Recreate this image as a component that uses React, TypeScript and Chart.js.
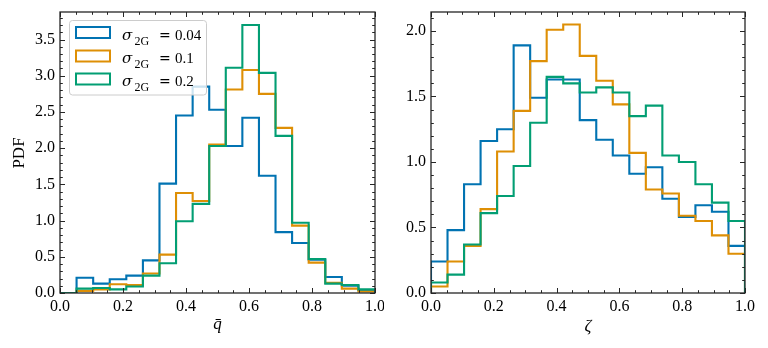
import React, { useEffect, useRef } from "react";
import { Chart, registerables } from "chart.js";

Chart.register(...registerables);

// ---- data ----
const binEdges = [
  0, 0.0526, 0.1053, 0.1579, 0.2105, 0.2632, 0.3158, 0.3684, 0.4211, 0.4737,
  0.5263, 0.5789, 0.6316, 0.6842, 0.7368, 0.7895, 0.8421, 0.8947, 0.9474, 1.0,
];

const seriesLabels = ["0.04", "0.1", "0.2"];
const seriesColors = ["#0173B2", "#DE8F05", "#029E73"];

// left panel: q-bar
const qBlue = [0, 0.21, 0.13, 0.19, 0.24, 0.45, 1.51, 2.45, 2.85, 2.53, 2.03, 2.42, 1.62, 0.84, 0.69, 0.46, 0.22, 0.1, 0.04];
const qOrange = [0, 0.03, 0.05, 0.12, 0.11, 0.27, 0.53, 1.38, 1.27, 2.05, 2.81, 3.08, 2.75, 2.28, 0.93, 0.42, 0.14, 0.06, 0.02];
const qGreen = [0, 0.06, 0.07, 0.05, 0.09, 0.24, 0.41, 0.99, 1.23, 2.03, 3.11, 3.7, 3.04, 2.17, 0.97, 0.47, 0.13, 0.11, 0.05];

// right panel: zeta
const zBlue = [0.24, 0.48, 0.83, 1.16, 1.25, 1.89, 1.49, 1.63, 1.63, 1.32, 1.17, 1.05, 0.91, 0.96, 0.72, 0.58, 0.67, 0.62, 0.36];
const zOrange = [0.05, 0.24, 0.36, 0.64, 1.08, 1.39, 1.77, 2.01, 2.05, 1.81, 1.62, 1.44, 1.07, 0.79, 0.76, 0.59, 0.55, 0.44, 0.3];
const zGreen = [0.08, 0.14, 0.37, 0.61, 0.74, 0.97, 1.3, 1.65, 1.6, 1.53, 1.57, 1.53, 1.35, 1.43, 1.05, 1.0, 0.83, 0.69, 0.55];

const xTickValues = [0, 0.2, 0.4, 0.6, 0.8, 1.0];
const yTickValuesLeft = [0, 0.5, 1.0, 1.5, 2.0, 2.5, 3.0, 3.5];
const yTickValuesRight = [0, 0.5, 1.0, 1.5, 2.0];

const SERIF = "'Liberation Serif', 'DejaVu Serif', serif";
const DEJAVU = "'DejaVu Serif', serif";
const INK = "#262626";

function stepPoints(values: number[]) {
  const pts: { x: number; y: number }[] = [{ x: binEdges[0], y: 0 }];
  values.forEach((v, i) => pts.push({ x: binEdges[i], y: v }));
  pts.push({ x: binEdges[binEdges.length - 1], y: 0 });
  return pts;
}

function minorList(max: number, step: number) {
  const out: number[] = [];
  for (let i = 0; i * step <= max + 1e-9; i++) out.push(+(i * step).toFixed(4));
  return out;
}

type PanelCfg = {
  series: number[][];
  yMax: number;
  yTicks: number[];
  yMinorStep: number;
  padLeftWidth: number;
  padRight: number;
  xTitle: string;
  yTitle?: string;
  legend: boolean;
};

function axesPlugin(cfg: PanelCfg) {
  return {
    id: "axesFrame",
    afterDraw(chart: any) {
      const { ctx, chartArea: a, scales } = chart;
      const xs = scales.x;
      const ys = scales.y;
      ctx.save();
      ctx.strokeStyle = INK;
      ctx.lineWidth = 1;
      ctx.beginPath();
      const xMinor = minorList(1, 0.05);
      const drawX = (vals: number[], len: number) => {
        vals.forEach((v) => {
          const px = Math.round(xs.getPixelForValue(v)) + 0.5;
          ctx.moveTo(px, a.bottom);
          ctx.lineTo(px, a.bottom - len);
          ctx.moveTo(px, a.top);
          ctx.lineTo(px, a.top + len);
        });
      };
      const drawY = (vals: number[], len: number) => {
        vals.forEach((v) => {
          const py = Math.round(ys.getPixelForValue(v)) + 0.5;
          ctx.moveTo(a.left, py);
          ctx.lineTo(a.left + len, py);
          ctx.moveTo(a.right, py);
          ctx.lineTo(a.right - len, py);
        });
      };
      drawX(xMinor, 2.8);
      drawX(xTickValues, 5);
      drawY(minorList(cfg.yMax, cfg.yMinorStep), 2.8);
      drawY(cfg.yTicks, 5);
      ctx.stroke();

      ctx.lineWidth = 1.3;
      ctx.strokeRect(a.left, a.top, a.right - a.left, a.bottom - a.top);

      // axis titles
      ctx.fillStyle = "#000";
      ctx.textAlign = "center";
      ctx.textBaseline = "alphabetic";
      const cx = (a.left + a.right) / 2;
      ctx.font = `italic 17px ${SERIF}`;
      if (cfg.xTitle === "q") {
        ctx.fillText("q\u0304", cx, 329);
      } else {
        ctx.fillText(cfg.xTitle, cx, 331);
      }
      if (cfg.yTitle) {
        ctx.save();
        ctx.translate(24, (a.top + a.bottom) / 2 + 0.5);
        ctx.rotate(-Math.PI / 2);
        ctx.font = `17px ${SERIF}`;
        ctx.fillText(cfg.yTitle, 0, 0);
        ctx.restore();
      }

      if (cfg.legend) {
        // legend frame
        const lx = 69.5, ly = 20.5, lw = 137, lh = 74.5, r = 3;
        ctx.beginPath();
        ctx.moveTo(lx + r, ly);
        ctx.lineTo(lx + lw - r, ly);
        ctx.arcTo(lx + lw, ly, lx + lw, ly + r, r);
        ctx.lineTo(lx + lw, ly + lh - r);
        ctx.arcTo(lx + lw, ly + lh, lx + lw - r, ly + lh, r);
        ctx.lineTo(lx + r, ly + lh);
        ctx.arcTo(lx, ly + lh, lx, ly + lh - r, r);
        ctx.lineTo(lx, ly + r);
        ctx.arcTo(lx, ly, lx + r, ly, r);
        ctx.closePath();
        ctx.fillStyle = "rgba(255,255,255,0.8)";
        ctx.fill();
        ctx.strokeStyle = "#cccccc";
        ctx.lineWidth = 1;
        ctx.stroke();

        const boxTops = [27, 50.5, 73.5];
        const baselines = [40, 63, 86];
        seriesLabels.forEach((lab, i) => {
          ctx.fillStyle = "#fff";
          ctx.fillRect(76, boxTops[i], 34, 11);
          ctx.strokeStyle = seriesColors[i];
          ctx.lineWidth = 2;
          ctx.strokeRect(76, boxTops[i], 34, 11);
          ctx.fillStyle = "#000";
          ctx.textAlign = "left";
          const by = baselines[i];
          ctx.font = `italic 15px ${DEJAVU}`;
          ctx.fillText("σ", 122, by);
          ctx.font = `12px ${SERIF}`;
          ctx.fillText("2G", 134.5, by + 4.5);
          ctx.font = `14px ${DEJAVU}`;
          ctx.fillText("=", 159, by);
          ctx.font = `15px ${SERIF}`;
          ctx.fillText(lab, 175, by);
        });
      }
      ctx.restore();
    },
  };
}

function Panel({ cfg }: { cfg: PanelCfg }) {
  const ref = useRef<HTMLCanvasElement | null>(null);
  useEffect(() => {
    if (!ref.current) return;
    const order = [3, 2, 1];
    const chart = new Chart(ref.current, {
      type: "line",
      data: {
        datasets: cfg.series.map((s, i) => ({
          label: "σ2G = " + seriesLabels[i],
          data: stepPoints(s),
          borderColor: seriesColors[i],
          backgroundColor: seriesColors[i],
          borderWidth: 2.1,
          pointRadius: 0,
          stepped: true,
          fill: false,
          order: order[i],
        })),
      },
      options: {
        animation: false,
        responsive: false,
        devicePixelRatio: 1,
        parsing: false as any,
        layout: { padding: { top: 12, right: cfg.padRight, left: 0, bottom: 0 } },
        plugins: { legend: { display: false }, tooltip: { enabled: false } },
        events: [],
        scales: {
          x: {
            type: "linear",
            min: 0,
            max: 1,
            grid: { display: false, drawTicks: false },
            border: { display: false },
            afterBuildTicks: (s: any) => {
              s.ticks = xTickValues.map((v) => ({ value: v }));
            },
            afterFit: (s: any) => {
              s.height = 55;
              s.paddingLeft = 0;
              s.paddingRight = 0;
            },
            ticks: {
              padding: 4,
              autoSkip: false,
              maxRotation: 0,
              color: "#000",
              font: { family: SERIF, size: 16 },
              callback: (v: any) => Number(v).toFixed(1),
            },
          },
          y: {
            type: "linear",
            min: 0,
            max: cfg.yMax,
            grid: { display: false, drawTicks: false },
            border: { display: false },
            afterBuildTicks: (s: any) => {
              s.ticks = cfg.yTicks.map((v) => ({ value: v }));
            },
            afterFit: (s: any) => {
              s.width = cfg.padLeftWidth;
              s.paddingTop = 0;
              s.paddingBottom = 0;
            },
            ticks: {
              padding: 5,
              autoSkip: false,
              color: "#000",
              font: { family: SERIF, size: 16 },
              callback: (v: any) => Number(v).toFixed(1),
            },
          },
        },
      },
      plugins: [axesPlugin(cfg)],
    });
    return () => chart.destroy();
  }, [cfg]);
  return <canvas ref={ref} width={384} height={348} style={{ display: "block" }} />;
}

const leftCfg: PanelCfg = {
  series: [qBlue, qOrange, qGreen],
  yMax: 3.88,
  yTicks: yTickValuesLeft,
  yMinorStep: 0.1,
  padLeftWidth: 60,
  padRight: 9,
  xTitle: "q",
  yTitle: "PDF",
  legend: true,
};

const rightCfg: PanelCfg = {
  series: [zBlue, zOrange, zGreen],
  yMax: 2.145,
  yTicks: yTickValuesRight,
  yMinorStep: 0.1,
  padLeftWidth: 47,
  padRight: 23,
  xTitle: "ζ",
  legend: false,
};

export default function App() {
  return (
    <div style={{ position: "absolute", left: 0, top: 0, width: 768, height: 348, background: "#fff" }}>
      <div style={{ position: "absolute", left: 0, top: 0 }}>
        <Panel cfg={leftCfg} />
      </div>
      <div style={{ position: "absolute", left: 384, top: 0 }}>
        <Panel cfg={rightCfg} />
      </div>
    </div>
  );
}
